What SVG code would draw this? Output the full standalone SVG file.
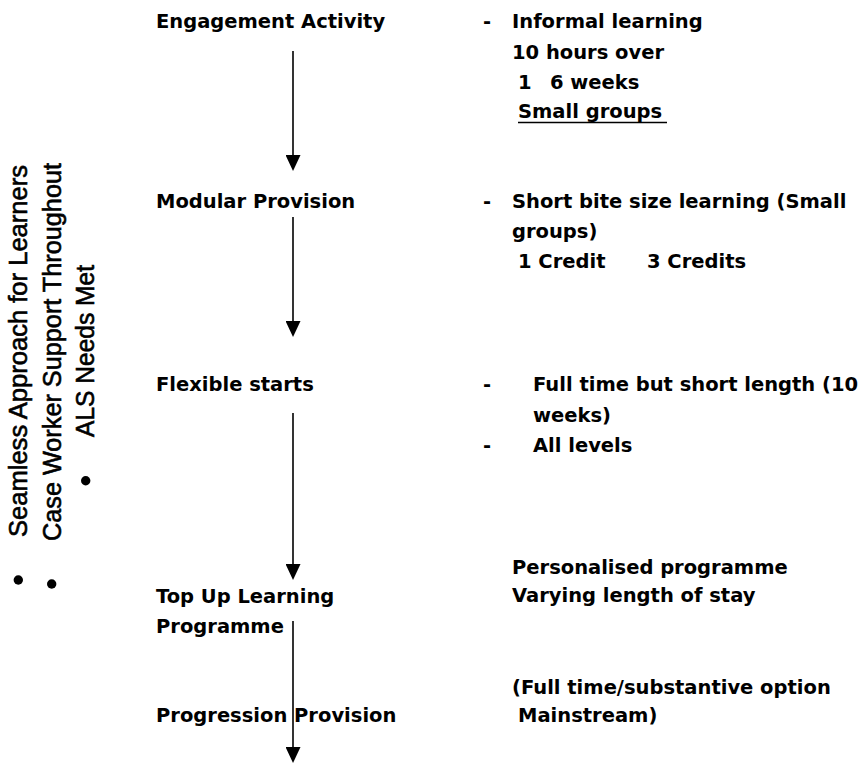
<svg xmlns="http://www.w3.org/2000/svg" width="867" height="764" viewBox="0 0 867 764">
  <defs>
    <marker id="ah" viewBox="0 0 16 15" refX="8" refY="7.5" markerWidth="16" markerHeight="15" markerUnits="userSpaceOnUse" orient="auto">
      <path d="M0,0 L16,7.5 L0,15 z" fill="#000"/>
    </marker>
  </defs>
  <style>
    .t { font-family: "DejaVu Sans", "Liberation Sans", sans-serif; font-weight: bold; font-size: 19.5px; fill: #000; }
    .side { font-family: "Liberation Sans", Arial, sans-serif; font-size: 25.5px; fill: #000; stroke: #000; stroke-width: 0.6px; }
    .conn { stroke: #000; stroke-width: 1.6; fill: none; marker-end: url(#ah); }
  </style>
  <rect width="867" height="764" fill="#fff"/>

  <g id="side-notes">
    <text class="side" transform="translate(26.5,537) rotate(-90)" textLength="372" lengthAdjust="spacingAndGlyphs">Seamless Approach for Learners</text>
    <text class="side" transform="translate(60.5,541) rotate(-90)" textLength="378" lengthAdjust="spacingAndGlyphs">Case Worker Support Throughout</text>
    <text class="side" transform="translate(94,437) rotate(-90)" textLength="172" lengthAdjust="spacingAndGlyphs">ALS Needs Met</text>
    <circle cx="18.3" cy="580" r="4.7"/>
    <circle cx="51.7" cy="584" r="4.7"/>
    <circle cx="85.7" cy="480.7" r="4.7"/>
  </g>

  <g id="engagement-activity">
    <text class="t" x="156" y="28">Engagement Activity</text>
  </g>
  <g id="engagement-details">
    <text class="t" x="483" y="28">-</text>
    <text class="t" x="512" y="28">Informal learning</text>
    <text class="t" x="512" y="59">10 hours over</text>
    <text class="t" y="89"><tspan x="518">1</tspan><tspan x="550">6 weeks</tspan></text>
    <text class="t" x="518" y="118">Small groups</text>
    <line x1="518" y1="122.5" x2="667" y2="122.5" stroke="#000" stroke-width="1.6"/>
  </g>

  <g id="modular-provision">
    <text class="t" x="156" y="208">Modular Provision</text>
  </g>
  <g id="modular-details">
    <text class="t" x="483" y="208">-</text>
    <text class="t" x="512" y="208">Short bite size learning (Small</text>
    <text class="t" x="512" y="238">groups)</text>
    <text class="t" y="268"><tspan x="518">1 Credit</tspan><tspan x="647">3 Credits</tspan></text>
  </g>

  <g id="flexible-starts">
    <text class="t" x="156" y="391">Flexible starts</text>
  </g>
  <g id="flexible-details">
    <text class="t" x="483" y="391">-</text>
    <text class="t" x="533" y="391">Full time but short length (10</text>
    <text class="t" x="533" y="422">weeks)</text>
    <text class="t" x="483" y="452">-</text>
    <text class="t" x="533" y="452">All levels</text>
  </g>

  <g id="top-up-learning">
    <text class="t" x="156" y="603">Top Up Learning</text>
    <text class="t" x="156" y="633">Programme</text>
  </g>
  <g id="top-up-details">
    <text class="t" x="512" y="574">Personalised programme</text>
    <text class="t" x="512" y="602">Varying length of stay</text>
  </g>

  <g id="progression-provision">
    <text class="t" x="156" y="722">Progression Provision</text>
  </g>
  <g id="progression-details">
    <text class="t" x="512" y="694">(Full time/substantive option</text>
    <text class="t" x="518" y="722">Mainstream)</text>
  </g>

  <g id="connectors">
    <line class="conn" x1="293" y1="51" x2="293" y2="163"/>
    <line class="conn" x1="293" y1="217" x2="293" y2="329"/>
    <line class="conn" x1="293" y1="413" x2="293" y2="572"/>
    <line class="conn" x1="293" y1="621" x2="293" y2="755"/>
  </g>
</svg>
